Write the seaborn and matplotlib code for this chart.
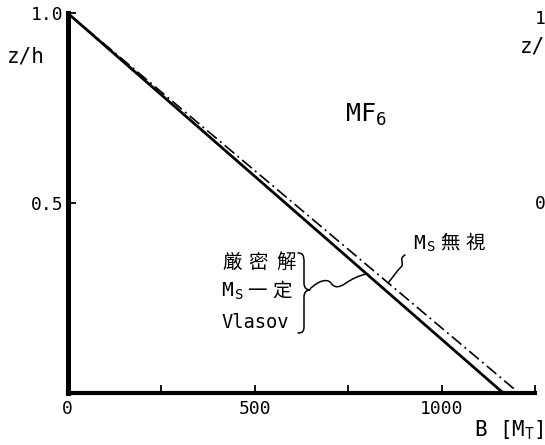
import numpy as np
import pandas as pd
import matplotlib
matplotlib.use("Agg")
import matplotlib.pyplot as plt
from matplotlib.path import Path
from matplotlib.patches import PathPatch
import seaborn as sns

# z/h versus B [M_T] for the MF6 case
z_levels = [1.0, 0.0]
B_exact = [0.0, 1165.0]        # 厳密解 / Ms一定 / Vlasov (coincide)
B_ms_ignored = [0.0, 1207.0]   # Ms無視

x_ticks = [0, 250, 500, 750, 1000, 1250]
x_tick_labels = ["0", "", "500", "", "1000", ""]
y_ticks = [0.5, 1.0]
y_tick_labels = ["0.5", "1.0"]

W, H = 545, 445
sns.set_style("ticks")
plt.rcParams["font.family"] = ["DejaVu Sans Mono", "Noto Sans CJK JP"]
plt.rcParams["mathtext.fontset"] = "custom"
plt.rcParams["mathtext.rm"] = "DejaVu Sans Mono"
plt.rcParams["mathtext.it"] = "DejaVu Sans Mono"
plt.rcParams["mathtext.bf"] = "DejaVu Sans Mono:bold"
plt.rcParams["text.color"] = "black"

fig = plt.figure(figsize=(W / 100, H / 100), dpi=100)
fig.patch.set_facecolor("white")


def fpos(x, y):
    """Pixel position (from top-left) to figure fraction."""
    return (x / W, 1 - y / H)


# axes box in pixels
ax_l, ax_b, ax_r, ax_t = 67.5, 393, 535, 13
ax = fig.add_axes([ax_l / W, 1 - ax_b / H, (ax_r - ax_l) / W, (ax_b - ax_t) / H])
ax.set_facecolor("white")

df_exact = pd.DataFrame({"B": B_exact, "z": z_levels})
df_ign = pd.DataFrame({"B": B_ms_ignored, "z": z_levels})

sns.lineplot(data=df_exact, x="B", y="z", sort=False, color="black",
             lw=2.0, ax=ax, clip_on=False)
sns.lineplot(data=df_ign, x="B", y="z", sort=False, color="black",
             lw=1.2, linestyle=(0, (7.5, 2.5, 1.2, 2.5)), ax=ax, clip_on=False)

ax.set_xlim(0, 1250)
ax.set_ylim(0, 1.0)
ax.set_xticks(x_ticks)
ax.set_xticklabels(x_tick_labels)
ax.set_yticks(y_ticks)
ax.set_yticklabels(y_tick_labels)
ax.set_xlabel("")
ax.set_ylabel("")
ax.tick_params(direction="in", length=6, width=1.3, labelsize=13, colors="black")
ax.tick_params(axis="x", pad=5)
ax.tick_params(axis="y", pad=3)
for s in ("top", "right"):
    ax.spines[s].set_visible(False)
ax.spines["left"].set_linewidth(3.6)
ax.spines["bottom"].set_linewidth(3.0)
ax.spines["left"].set_color("black")
ax.spines["bottom"].set_color("black")

# axis titles and panel label
fig.text(*fpos(26, 57), "z/h", fontsize=15, ha="center", va="center")
fig.text(*fpos(345, 122), "MF$_6$", fontsize=18, ha="left", va="baseline")
fig.text(*fpos(474, 436), "B [M$_\\mathrm{T}$]", fontsize=15, ha="left", va="baseline")

# neighbouring panel's labels running off the right edge
fig.text(*fpos(535, 19), "1.0", fontsize=13, ha="left", va="center")
fig.text(*fpos(520, 47), "z/h", fontsize=15, ha="left", va="center")
fig.text(*fpos(535, 204), "0.5", fontsize=13, ha="left", va="center")


def put(s, x, y, size, **kw):
    fig.text(*fpos(x, y), s, fontsize=size, ha="left", va="center", **kw)


# curve labels
put("M", 413, 243, 14)
put("S", 427, 247, 10)
put("無", 440, 243, 14)
put("視", 466, 243, 14)

put("厳", 222, 262, 14)
put("密", 248, 262, 14)
put("解", 276, 262, 14)
put("M", 221, 291, 14)
put("S", 235, 295, 10)
put("一", 247, 291, 14)
put("定", 272, 291, 14)
put("Vlasov", 221, 323, 13.5)


def draw_path(pts, codes, lw=1.1):
    verts = [fpos(x, y) for x, y in pts]
    patch = PathPatch(Path(verts, codes), fill=False, lw=lw, ec="black",
                      transform=fig.transFigure, capstyle="round", joinstyle="round")
    fig.add_artist(patch)


M, L, C = Path.MOVETO, Path.LINETO, Path.CURVE4

# right brace grouping the three labels
draw_path([(298, 253), (303, 253), (304, 256), (304, 262),
           (304, 283),
           (304, 287), (306, 290), (310, 290),
           (306, 290), (304, 293), (304, 297),
           (304, 326),
           (304, 331), (303, 333), (298, 333)],
          [M, C, C, C, L, C, C, C, C, C, C, L, C, C, C])

# wavy leader from the brace to the solid line
draw_path([(310, 289),
           (318, 281), (327, 278), (331, 283),
           (334, 288), (339, 288), (346, 283),
           (352, 279), (358, 276), (366, 274)],
          [M, C, C, C, C, C, C, C, C, C])

# wavy leader from "Ms無視" to the dash-dot line
draw_path([(405, 255),
           (398, 259), (405, 263), (401, 267),
           (397, 271), (393, 277), (388, 283)],
          [M, C, C, C, C, C, C])

fig.savefig("out.png", dpi=100, facecolor="white")
